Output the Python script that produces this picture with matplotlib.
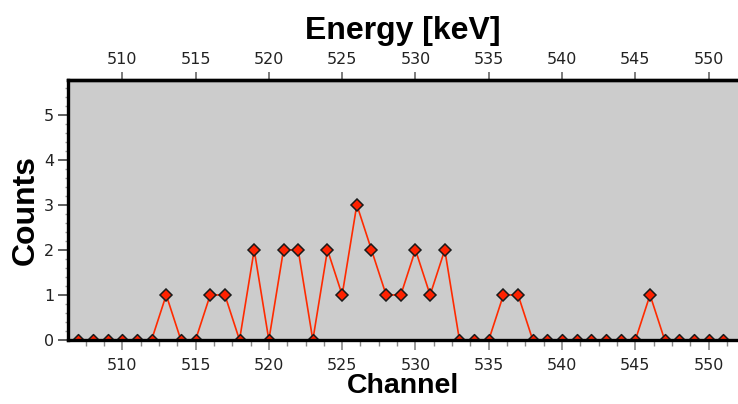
import matplotlib
matplotlib.use("Agg")
import matplotlib.pyplot as plt
import numpy as np
from matplotlib.path import Path
from matplotlib.ticker import MultipleLocator

# channel numbers and counts
channels = list(range(507, 552))
counts = [0, 0, 0, 0, 0, 0, 1, 0, 0, 1,
          1, 0, 2, 0, 2, 2, 0, 2, 1, 3,
          2, 1, 1, 2, 1, 2, 0, 0, 0, 1,
          1, 0, 0, 0, 0, 0, 0, 0, 0, 1,
          0, 0, 0, 0, 0]
x_ticks = [510, 515, 520, 525, 530, 535, 540, 545, 550]
y_ticks = [0, 1, 2, 3, 4, 5]

ch = np.array(channels)
ct = np.array(counts)
zero = ct == 0

fig = plt.figure(figsize=(7.38, 4.04), dpi=100)
ax = fig.add_axes([68 / 738, 64 / 404, 670 / 738, 260 / 404])
ax.set_facecolor("#cccccc")

ax.plot(ch, ct, color="#ff2a00", lw=1.2, zorder=3)
ax.plot(ch[~zero], ct[~zero], ls="none", marker="D", ms=6.5,
        mfc="#ff2200", mec="#1a1a1a", mew=1.1, zorder=3.5)
# markers sitting on the axis only show their upper half
half_diamond = Path([(-1, 0), (0, 1), (1, 0), (-1, 0)],
                    [Path.MOVETO, Path.LINETO, Path.LINETO, Path.CLOSEPOLY])
ax.plot(ch[zero], ct[zero], ls="none", marker=half_diamond, ms=8.5,
        mfc="#ff2200", mec="#1a1a1a", mew=1.1, zorder=3.5)

ax.set_xlim(506.3, 552.0)
ax.set_ylim(0, 5.77)
ax.set_xticks(x_ticks)
ax.set_yticks(y_ticks)
ax.xaxis.set_minor_locator(MultipleLocator(1.25))
ax.yaxis.set_minor_locator(MultipleLocator(0.2))

tick_font = dict(family="DejaVu Sans", size=11.5, color="#222222")
ax.set_xticklabels([str(t) for t in x_ticks], **tick_font)
ax.set_yticklabels([str(t) for t in y_ticks], **tick_font)

ax.tick_params(axis="x", which="major", direction="out", length=7,
               width=1.2, color="#888888", pad=6)
ax.tick_params(axis="x", which="minor", direction="out", length=4,
               width=1.0, color="#888888")
ax.tick_params(axis="y", which="major", direction="out", length=7,
               width=1.2, color="#444444", pad=3)
ax.tick_params(axis="y", which="minor", direction="out", length=2,
               width=1.0, color="#999999")

for side in ["left", "bottom", "top"]:
    ax.spines[side].set_linewidth(2.4)
    ax.spines[side].set_color("black")
    ax.spines[side].set_zorder(4)
ax.spines["right"].set_visible(False)

# energy scale on top (same numbers as channel here)
top = ax.secondary_xaxis("top", functions=(lambda v: v, lambda v: v))
top.set_xticks(x_ticks)
top.set_xticklabels([str(t) for t in x_ticks], **tick_font)
top.tick_params(axis="x", which="major", direction="out", length=6,
                width=1.2, color="#666666", pad=3)
top.tick_params(axis="x", which="minor", length=0)
top.spines["top"].set_linewidth(2.4)

label_font = dict(family="Liberation Sans", size=23, weight="bold")
top.set_xlabel("Energy [keV]", labelpad=10, **label_font)
ax.set_xlabel("Channel", labelpad=0, family="Liberation Sans", size=20.5,
              weight="bold")
ax.set_ylabel("Counts", labelpad=2, **label_font)

fig.savefig("out.png", dpi=100)
